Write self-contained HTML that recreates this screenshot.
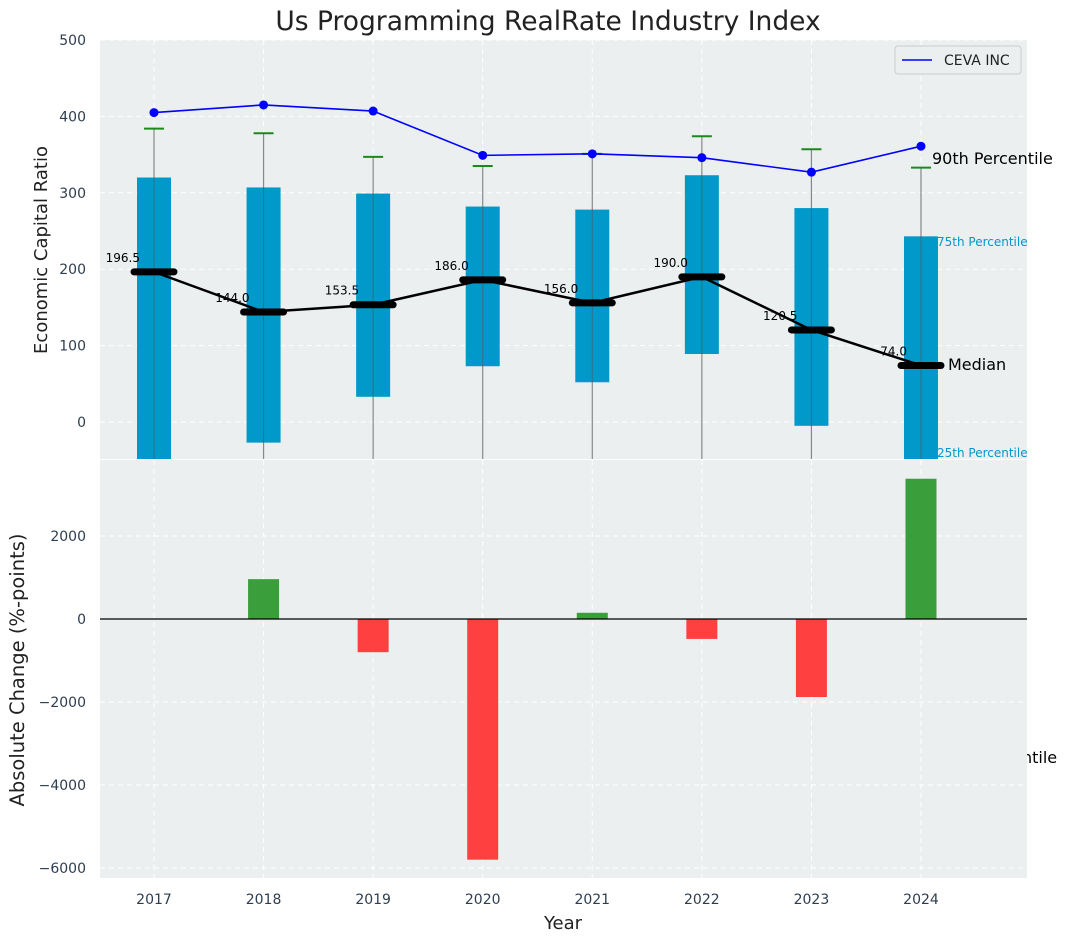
<!DOCTYPE html>
<html><head><meta charset="utf-8"><style>
body{margin:0;background:#fff}
svg{display:block;font-family:"DejaVu Sans","Liberation Sans",sans-serif}
</style></head><body>
<svg id="c" width="1067" height="942" xmlns="http://www.w3.org/2000/svg"></svg>
<script>
const years=[2017,2018,2019,2020,2021,2022,2023,2024];
const p90=[405,415,407,349,351,346,327,361];
const whiskerTop=[384,378,347,335,351,374,357,333];
const q3=[320,307,299,282,278,323,280,243];
const q1=[-60,-27,33,73,52,89,-5,-60];
const medians=[196.5,144,153.5,186,156,190,120.5,74];
const changes=[0,960,-800,-5800,150,-480,-1880,3380];
const topTicks=[0,100,200,300,400,500];
const botTicks=[-6000,-4000,-2000,0,2000];

const NS='http://www.w3.org/2000/svg';
const svg=document.getElementById('c');
function el(t,a,p){const e=document.createElementNS(NS,t);for(const k in a)e.setAttribute(k,a[k]);(p||svg).appendChild(e);return e;}
const xS=y=>154+(y-2017)*109.57;
const yT=v=>422-v*0.764;
const yB=v=>619-v*0.0415;
const L=100,R=1027;

let t=el('text',{x:548,y:30,'text-anchor':'middle','font-size':26.5,fill:'#222'});t.textContent='Us Programming RealRate Industry Index';


let bg=el('rect',{x:L,y:40,width:R-L,height:419,fill:'#ebeff0'});

let clipD=el('defs',{});let cp=el('clipPath',{id:'ct'},clipD);el('rect',{x:L,y:40,width:R-L,height:419},cp);
let cp2=el('clipPath',{id:'cb'},clipD);el('rect',{x:L,y:460,width:R-L,height:418},cp2);
const gT=el('g',{'clip-path':'url(#ct)'});
topTicks.forEach(v=>{
 el('line',{x1:L,x2:R,y1:yT(v),y2:yT(v),stroke:'#fff','stroke-dasharray':'5,4','stroke-width':1},gT);
 let tl=el('text',{x:86,y:yT(v)+5,'text-anchor':'end','font-size':14,fill:'#2e3e50'});tl.textContent=v;
 
});
years.forEach(y=>el('line',{x1:xS(y),x2:xS(y),y1:40,y2:459,stroke:'#fff','stroke-dasharray':'5,4'},gT));
years.forEach((y,i)=>{
 const x=xS(y);
 el('line',{x1:x,x2:x,y1:yT(whiskerTop[i]),y2:470,stroke:'#888','stroke-width':1.2},gT);
 let b=el('rect',{x:x-17,y:yT(q3[i]),width:34,height:yT(q1[i])-yT(q3[i]),fill:'#0099c9'},gT);
 
 el('line',{x1:x,x2:x,y1:yT(q3[i]),y2:yT(q1[i]),stroke:'#555','stroke-width':1,opacity:.6},gT);
 let c=el('line',{x1:x-10,x2:x+10,y1:yT(whiskerTop[i]),y2:yT(whiskerTop[i]),stroke:'#1a8a1a','stroke-width':2},gT);
 
});
let mp=el('polyline',{points:years.map((y,i)=>xS(y)+','+yT(medians[i])).join(' '),fill:'none',stroke:'#000','stroke-width':2.5},gT);

years.forEach((y,i)=>{
 const x=xS(y);
 let m=el('line',{x1:x-20,x2:x+20,y1:yT(medians[i]),y2:yT(medians[i]),stroke:'#000','stroke-width':7,'stroke-linecap':'round'},gT);
 
 let lt=el('text',{x:x-14,y:yT(medians[i])-10,'text-anchor':'end','font-size':12,fill:'#000'});lt.textContent=medians[i].toFixed(1);
 
});
let pl=el('polyline',{points:years.map((y,i)=>xS(y)+','+yT(p90[i])).join(' '),fill:'none',stroke:'#0000ff','stroke-width':1.6},gT);

years.forEach((y,i)=>{let d=el('circle',{cx:xS(y),cy:yT(p90[i]),r:4.5,fill:'#0000ff'},gT);
 });
function txt(x,y,s,fs,fill,name){let e=el('text',{x:x,y:y,'font-size':fs,fill:fill});e.textContent=s;return e;}
txt(932,164,'90th Percentile',16,'#000','p90-annotation');
txt(937,246,'75th Percentile',12,'#0099c9','p75-annotation');
txt(948,370,'Median',16,'#000','median-annotation');
txt(937,457,'25th Percentile',12,'#0099c9','p25-annotation');
let lg=el('g',{});
el('rect',{x:895,y:46,width:126,height:28,rx:3,fill:'#ebeff0',stroke:'#ccc'},lg);
el('line',{x1:902,x2:932,y1:60,y2:60,stroke:'#0000ff','stroke-width':1.6},lg);
let lt=el('text',{x:944,y:65,'font-size':14,fill:'#222'},lg);lt.textContent='CEVA INC';
let yl=el('text',{x:47,y:250,'text-anchor':'middle','font-size':18,fill:'#222',transform:'rotate(-90 47 250)'});yl.textContent='Economic Capital Ratio';


let bb=el('rect',{x:L,y:460,width:R-L,height:418,fill:'#ebeff0'});

txt(1022,763,'ntile',16,'#000','clipped-annotation');
el('rect',{x:R-60,y:740,width:60,height:30,fill:'#ebeff0'});
const gB=el('g',{'clip-path':'url(#cb)'});
botTicks.forEach(v=>{
 el('line',{x1:L,x2:R,y1:yB(v),y2:yB(v),stroke:'#fff','stroke-dasharray':'5,4'},gB);
 let tl=el('text',{x:86,y:yB(v)+5,'text-anchor':'end','font-size':14,fill:'#2e3e50'});tl.textContent=(v<0?'\u2212'+(-v):v);
 
});
years.forEach(y=>{
 el('line',{x1:xS(y),x2:xS(y),y1:460,y2:878,stroke:'#fff','stroke-dasharray':'5,4'},gB);
 let tl=el('text',{x:xS(y),y:904,'text-anchor':'middle','font-size':14,fill:'#2e3e50'});tl.textContent=y;
 
});
years.forEach((y,i)=>{
 const v=changes[i];if(v===0)return;
 let b=el('rect',{x:xS(y)-15.5,y:Math.min(yB(v),yB(0)),width:31,height:Math.abs(yB(v)-yB(0)),fill:v>0?'#3a9e3a':'#ff4040'},gB);
 
});
el('line',{x1:L,x2:R,y1:yB(0),y2:yB(0),stroke:'#000','stroke-width':1.2},gB);
let yl2=el('text',{x:24,y:670,'text-anchor':'middle','font-size':19.5,fill:'#222',transform:'rotate(-90 24 670)'});yl2.textContent='Absolute Change (%-points)';

let xl=el('text',{x:563,y:929,'text-anchor':'middle','font-size':18,fill:'#222'});xl.textContent='Year';

</script>
</body></html>
